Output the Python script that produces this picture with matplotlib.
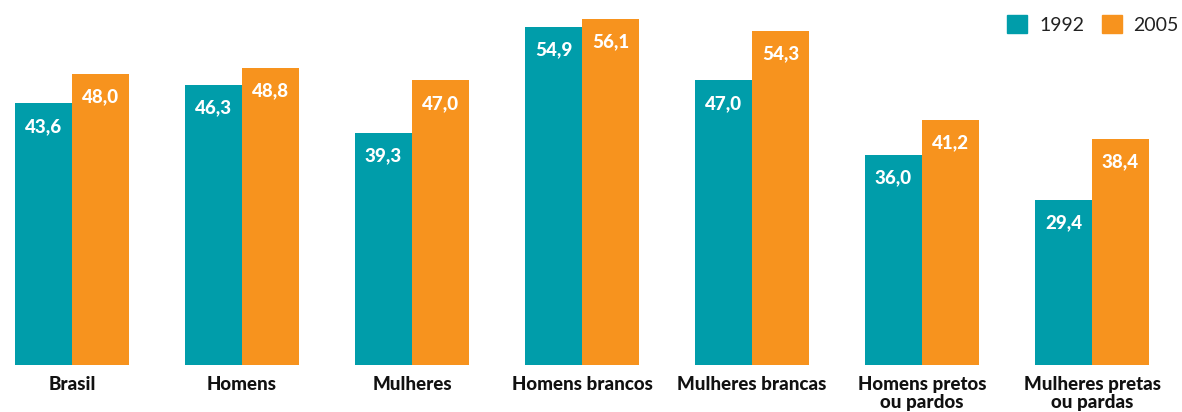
import matplotlib.pyplot as plt
import numpy as np
from matplotlib.patches import Patch

categories = ['Brasil', 'Homens', 'Mulheres', 'Homens brancos', 'Mulheres brancas',
              'Homens pretos\nou pardos', 'Mulheres pretas\nou pardas']
v1992 = [43.6, 46.3, 39.3, 54.9, 47.0, 36.0, 29.4]
v2005 = [48.0, 48.8, 47.0, 56.1, 54.3, 41.2, 38.4]
years = ['1992', '2005']

TEAL = '#009DAA'
ORANGE = '#F7931E'

plt.rcParams['font.family'] = ['Lato', 'DejaVu Sans']

fig = plt.figure(figsize=(11.82, 4.12), dpi=100)
ax = fig.add_axes([0, 47 / 412, 1, 365 / 412])

x = np.arange(len(categories))
w = 0.335
b1 = ax.bar(x - w / 2, v1992, w, color=TEAL)
b2 = ax.bar(x + w / 2, v2005, w, color=ORANGE)

# rótulos de valor dentro das barras
for bars, vals in ((b1, v1992), (b2, v2005)):
    for r, v in zip(bars, vals):
        ax.annotate(f'{v:.1f}'.replace('.', ','),
                    (r.get_x() + r.get_width() / 2, v),
                    xytext=(0, -23), textcoords='offset pixels',
                    ha='center', va='center', color='white',
                    fontsize=13.5, fontweight='black')

ax.set_xlim(-72 / 170, (1182 - 72) / 170)
ax.set_ylim(5, 58.85)
ax.set_xticks(x)
ax.set_xticklabels(categories, fontsize=13.5, fontweight='black', linespacing=1.05,
                   color='#111111')
ax.tick_params(axis='x', length=0, pad=8)
ax.set_yticks([])
for s in ax.spines.values():
    s.set_visible(False)

handles = [Patch(color=TEAL), Patch(color=ORANGE)]
fig.legend(handles, years, loc='upper right',
           bbox_to_anchor=(1179 / 1182, 1 - 15 / 412),
           ncol=2, frameon=False, handlelength=1.05, handleheight=1.05,
           columnspacing=0.9, handletextpad=0.6, borderaxespad=0, borderpad=0,
           labelcolor='#222222', prop={'weight': 'normal', 'size': 14})

fig.savefig('out.png', dpi=100)
